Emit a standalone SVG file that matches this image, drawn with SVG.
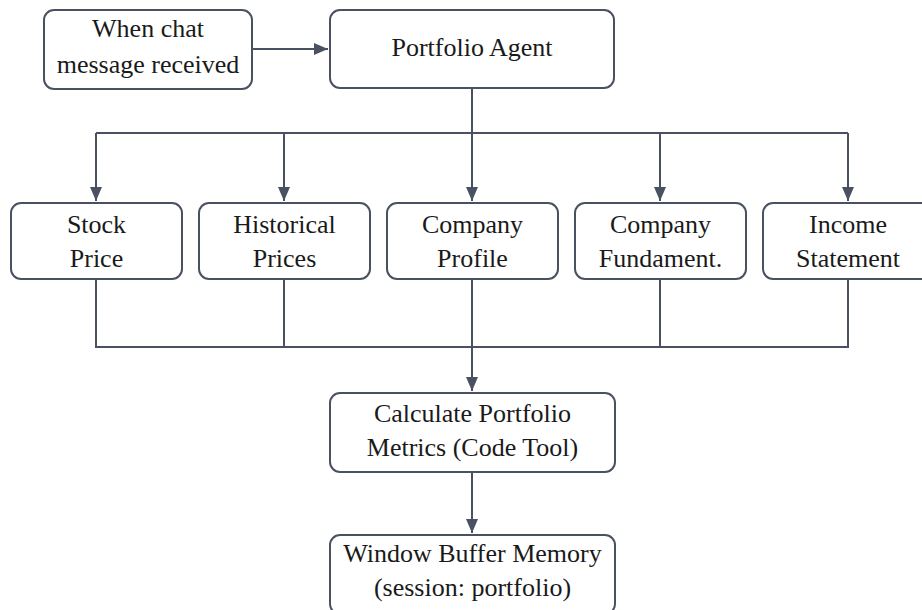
<svg xmlns="http://www.w3.org/2000/svg" width="922" height="610" viewBox="0 0 922 610">
<style>
.box{fill:#ffffff;stroke:#4a5261;stroke-width:2}
.lbl{font-family:"Liberation Serif","DejaVu Serif",serif;font-size:26px;fill:#1a1a1a;text-anchor:middle}
.edge{fill:none;stroke:#4a5261;stroke-width:2}
</style>
<defs>
<marker id="ah" markerUnits="userSpaceOnUse" markerWidth="16" markerHeight="14" refX="14" refY="7" orient="auto">
<path d="M0,1 L14,7 L0,13 Z" fill="#4a5261"/>
</marker>
</defs>
<rect width="922" height="610" fill="#ffffff"/>
<g id="connectors">
<path class="edge" d="M252,49 H328" marker-end="url(#ah)"/>
<path class="edge" d="M472,88 V133"/>
<path class="edge" d="M96,133 H848"/>
<path class="edge" d="M96,133 V201" marker-end="url(#ah)"/>
<path class="edge" d="M284,133 V201" marker-end="url(#ah)"/>
<path class="edge" d="M472,133 V201" marker-end="url(#ah)"/>
<path class="edge" d="M660,133 V201" marker-end="url(#ah)"/>
<path class="edge" d="M848,133 V201" marker-end="url(#ah)"/>
<path class="edge" d="M96,279 V347 H848 V279"/>
<path class="edge" d="M284,279 V347"/>
<path class="edge" d="M660,279 V347"/>
<path class="edge" d="M472,279 V391" marker-end="url(#ah)"/>
<path class="edge" d="M472,472 V533" marker-end="url(#ah)"/>
</g>
<g id="trigger">
<rect class="box" x="44" y="10" width="208" height="79" rx="10"/>
<text class="lbl" x="148" y="37">When chat</text>
<text class="lbl" x="148" y="73">message received</text>
</g>
<g id="agent">
<rect class="box" x="330" y="10" width="284" height="78" rx="10"/>
<text class="lbl" x="472" y="56">Portfolio Agent</text>
</g>
<g id="stock-price">
<rect class="box" x="11" y="203" width="171" height="76" rx="10"/>
<text class="lbl" x="96.5" y="233">Stock</text>
<text class="lbl" x="96.5" y="267">Price</text>
</g>
<g id="historical-prices">
<rect class="box" x="199" y="203" width="171" height="76" rx="10"/>
<text class="lbl" x="284.5" y="233">Historical</text>
<text class="lbl" x="284.5" y="267">Prices</text>
</g>
<g id="company-profile">
<rect class="box" x="387" y="203" width="171" height="76" rx="10"/>
<text class="lbl" x="472.5" y="233">Company</text>
<text class="lbl" x="472.5" y="267">Profile</text>
</g>
<g id="company-fundamentals">
<rect class="box" x="575" y="203" width="171" height="76" rx="10"/>
<text class="lbl" x="660.5" y="233">Company</text>
<text class="lbl" x="660.5" y="267">Fundament.</text>
</g>
<g id="income-statement">
<rect class="box" x="763" y="203" width="171" height="76" rx="10"/>
<text class="lbl" x="848" y="233">Income</text>
<text class="lbl" x="848" y="267">Statement</text>
</g>
<g id="calculate-metrics">
<rect class="box" x="330" y="393" width="285" height="79" rx="10"/>
<text class="lbl" x="472.5" y="422">Calculate Portfolio</text>
<text class="lbl" x="472.5" y="456">Metrics (Code Tool)</text>
</g>
<g id="window-memory">
<rect class="box" x="330" y="535" width="285" height="79" rx="10"/>
<text class="lbl" x="472.5" y="562">Window Buffer Memory</text>
<text class="lbl" x="472.5" y="596">(session: portfolio)</text>
</g>
</svg>
